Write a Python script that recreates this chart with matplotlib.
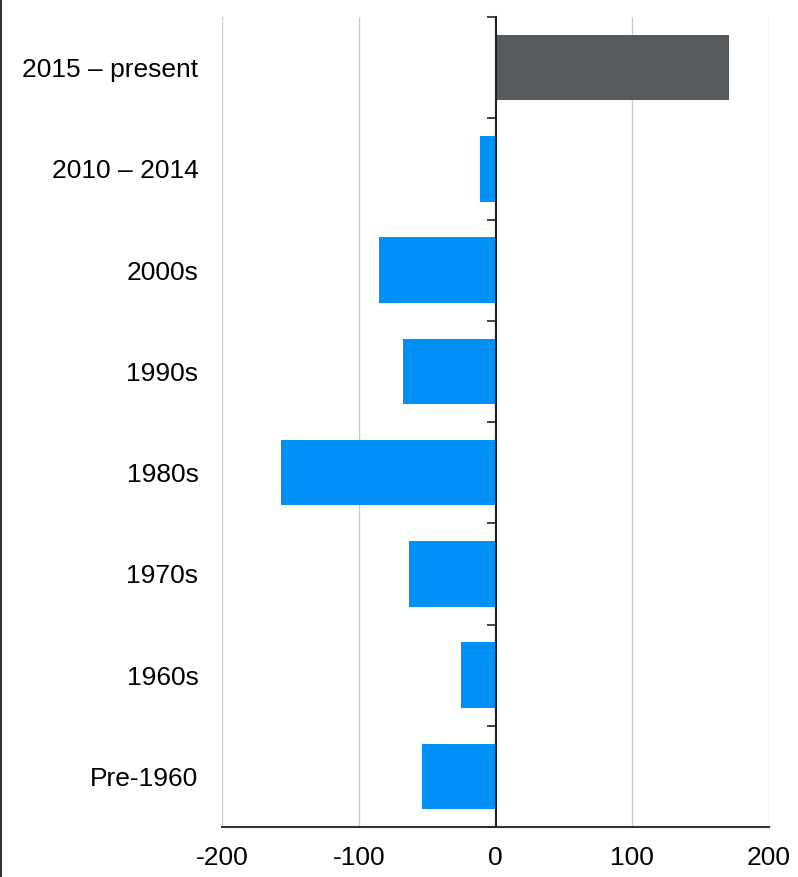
import matplotlib
matplotlib.use("Agg")
import matplotlib.pyplot as plt
from matplotlib.lines import Line2D
import numpy as np

categories = ["2015 – present", "2010 – 2014", "2000s", "1990s", "1980s", "1970s", "1960s", "Pre-1960"]
values = [171, -11, -85, -68, -156.5, -63.5, -25, -54]
bar_colors = ["#575a5d", "#0091f7", "#0091f7", "#0091f7", "#0091f7", "#0091f7", "#0091f7", "#0091f7"]
xticks = [-200, -100, 0, 100, 200]
xticklabels = ["-200", "-100", "0", "100", "200"]

plt.rcParams['font.family'] = ['Liberation Sans', 'DejaVu Sans']

fig = plt.figure(figsize=(7.98, 8.77), dpi=100)
ax = fig.add_axes([222/798, 1-827/877, (769-222)/798, (827-17)/877])

n = len(categories)
y = np.arange(n)
ax.barh(y, values, height=0.645, color=bar_colors, zorder=2)
ax.set_ylim(n - 0.5, -0.5)
ax.set_xlim(-200, 200)

ax.set_yticks(y)
ax.set_yticklabels(categories, fontsize=19)
ax.tick_params(axis='y', length=0, pad=17)

ax.set_xticks(xticks)
ax.set_xticklabels(xticklabels, fontsize=19)
ax.tick_params(axis='x', length=0, pad=14)

ax.grid(axis='x', color='#cccccc', linewidth=1, zorder=0)
for s in ['top', 'right', 'left']:
    ax.spines[s].set_visible(False)
ax.spines['bottom'].set_color('#333333')
ax.spines['bottom'].set_linewidth(1.5)

sec = ax.secondary_yaxis(0.5)
sec.set_yticks(np.arange(n + 1) - 0.5)
sec.set_yticklabels([])
sec.tick_params(axis='y', which='both', left=True, right=False, labelleft=False, labelright=False,
                length=6, width=1.2, color='#222222', direction='out')
sec.set_zorder(3)
for s in sec.spines.values():
    s.set_color('#222222')
    s.set_linewidth(1.5)

fig.add_artist(Line2D([0.0015, 0.0015], [0, 1], transform=fig.transFigure, color='#333333', linewidth=1.5))

fig.savefig("out.png", dpi=100)
